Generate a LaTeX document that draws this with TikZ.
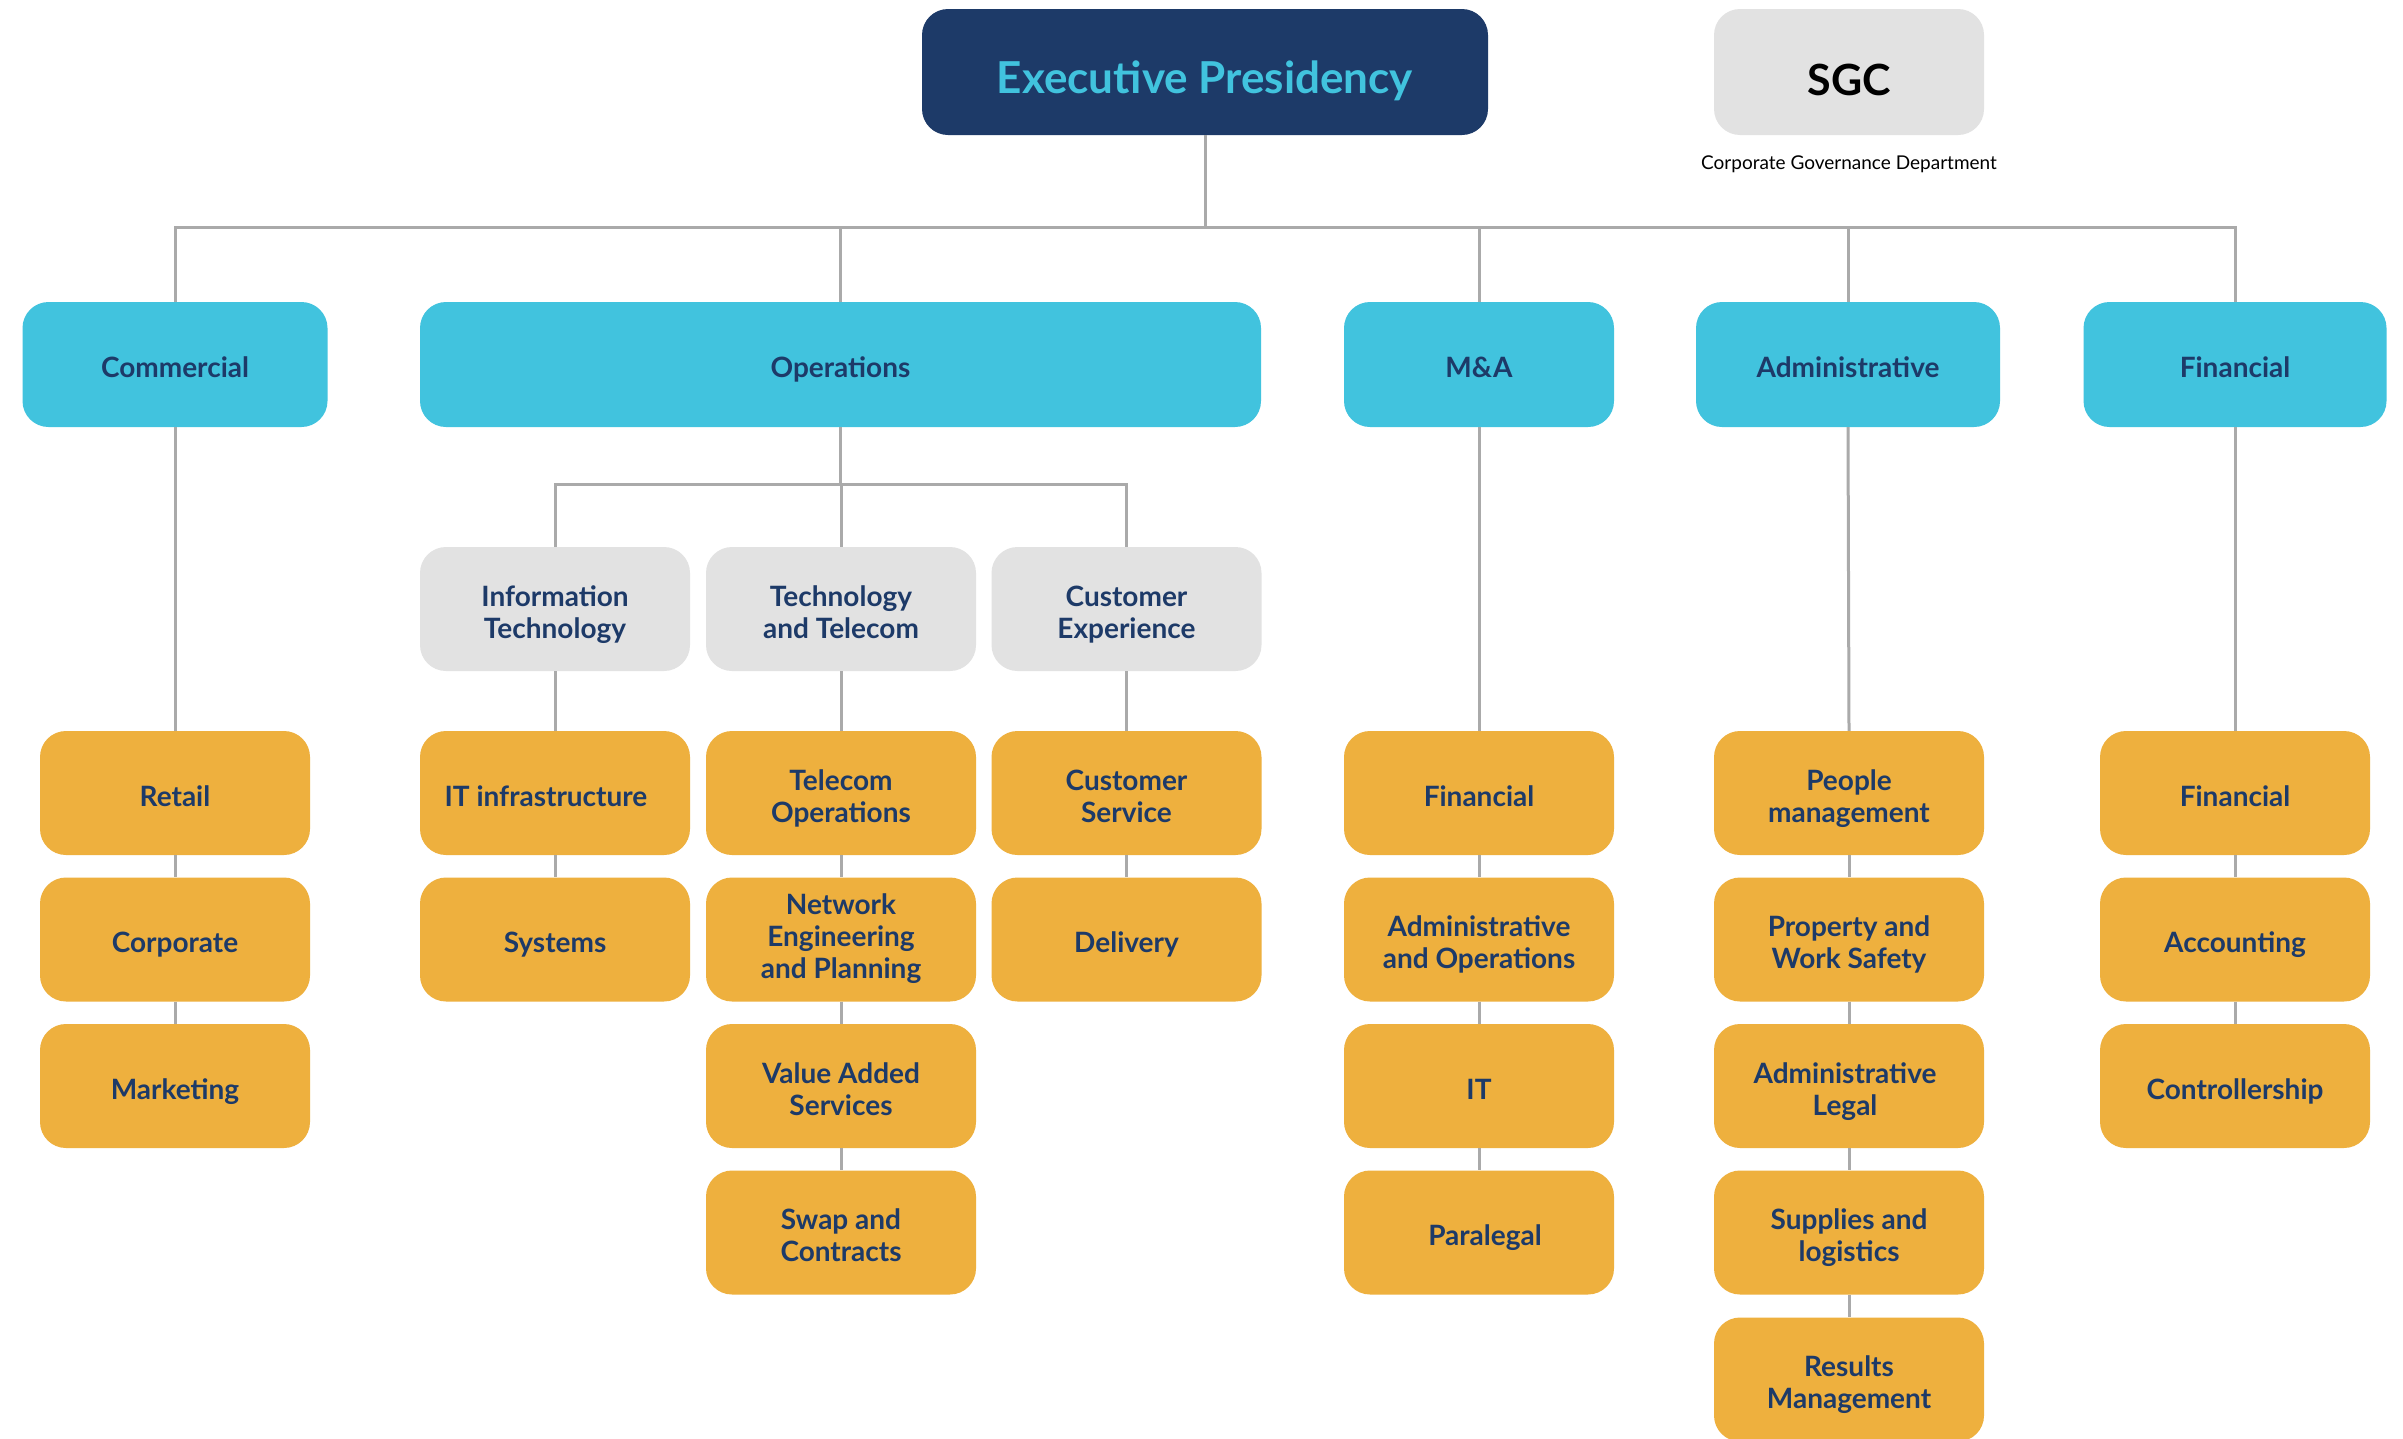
\documentclass[tikz,border=0pt]{standalone}
\usepackage{fontspec}
\setmainfont{Lato}
\definecolor{navy}{HTML}{1D3A68}
\definecolor{cyanc}{HTML}{41C3DE}
\definecolor{orangec}{HTML}{EEB03E}
\definecolor{greyc}{HTML}{E2E2E2}
\definecolor{linec}{HTML}{AAAAAA}
\newcommand{\topln}{\rule{0pt}{33pt}}
\begin{document}
\begin{tikzpicture}[x=1pt,y=-1pt,
  box/.style={rounded corners=26pt, minimum width=270pt, minimum height=124pt, inner sep=0pt,
    align=center, font=\fontsize{28}{32}\selectfont\bfseries, text=navy},
  stdbox/.style={box, execute at begin node={\rule{0pt}{33pt}}, execute at end node={\rule[-7pt]{0pt}{0pt}}},
  orangebox/.style={stdbox, fill=orangec},
  greybox/.style={stdbox, fill=greyc},
  cyanbox/.style={stdbox, fill=cyanc, minimum height=125pt},
  link/.style={draw=linec, line width=3pt}]
\useasboundingbox (0,0) rectangle (2403,1438);
\fill[white] (0,0) rectangle (2403,1438);

% top
\node[box, fill=navy, minimum width=566pt, minimum height=126pt, text=cyanc,
  font=\fontsize{44}{48}\selectfont\bfseries,
  execute at begin node={\rule{0pt}{55pt}}, execute at end node={\rule[-13pt]{0pt}{0pt}}]
  (exec) at (1205,72) {Executive Presidency};
\node[box, fill=greyc, minimum height=126pt, text=black,
  font=\fontsize{43}{46}\selectfont\bfseries,
  execute at begin node={\rule{0pt}{52pt}}, execute at end node={\rule[-6pt]{0pt}{0pt}}]
  (sgc) at (1849,72) {SGC};
\node[font=\fontsize{19}{21}\selectfont, text=black, inner sep=0pt] (sgct) at (1849,164) {Corporate Governance Department};

% level 2
\node[cyanbox, minimum width=305pt] (com) at (175,364.5) {Commercial};
\node[cyanbox, minimum width=841pt] (ops) at (840.5,364.5) {Operations};
\node[cyanbox, minimum width=270pt] (ma) at (1479,364.5) {M\&A};
\node[cyanbox, minimum width=304pt] (adm) at (1848,364.5) {Administrative};
\node[cyanbox, minimum width=303pt] (fin) at (2235,364.5) {Financial};

% operations sub areas
\node[greybox] (it) at (555,609) {\topln Information\\Technology};
\node[greybox] (tt) at (841,609) {\topln Technology\\and Telecom};
\node[greybox] (ce) at (1126.5,609) {\topln Customer\\Experience};

% commercial
\node[orangebox] (c1) at (175,793) {Retail};
\node[orangebox] (c2) at (175,939.5) {Corporate};
\node[orangebox] (c3) at (175,1086) {Marketing};
% IT
\node[orangebox] (i1) at (555,793) {IT infrastructure\hspace*{18pt}};
\node[orangebox] (i2) at (555,939.5) {Systems};
% TT
\node[orangebox] (t1) at (841,793) {\topln Telecom\\Operations};
\node[orangebox] (t2) at (841,939.5) {Network\\Engineering\\and Planning};
\node[orangebox] (t3) at (841,1086) {\topln Value Added\\Services};
\node[orangebox] (t4) at (841,1232.5) {\topln Swap and\\Contracts};
% CE
\node[orangebox] (e1) at (1126.5,793) {\topln Customer\\Service};
\node[orangebox] (e2) at (1126.5,939.5) {Delivery};
% M&A
\node[orangebox] (m1) at (1479,793) {Financial};
\node[orangebox] (m2) at (1479,939.5) {\topln Administrative\\and Operations};
\node[orangebox] (m3) at (1479,1086) {IT};
\node[orangebox] (m4) at (1479,1232.5) {\hspace*{12pt}Paralegal};
% Administrative
\node[orangebox] (a1) at (1849,793) {\topln People\\management};
\node[orangebox] (a2) at (1849,939.5) {\topln Property and\\Work Safety};
\node[orangebox] (a3) at (1849,1086) {\topln Administrative\hspace*{8pt}\\Legal\hspace*{8pt}};
\node[orangebox] (a4) at (1849,1232.5) {\topln Supplies and\\logistics};
\node[orangebox] (a5) at (1849,1379.5) {\topln Results\\Management};
% Financial
\node[orangebox] (f1) at (2235,793) {Financial};
\node[orangebox] (f2) at (2235,939.5) {Accounting};
\node[orangebox] (f3) at (2235,1086) {Controllership};

% connectors
\coordinate (hub) at (1205,227);
\coordinate (sub) at (840.5,484);
\draw[link] (exec.south) -- (hub);
\draw[link] (com.north) -- (com.north |- hub) -- (fin.north |- hub) -- (fin.north);
\draw[link] (ops.north) -- (ops.north |- hub);
\draw[link] (ma.north) -- (ma.north |- hub);
\draw[link] (adm.north) -- (adm.north |- hub);
\draw[link] (ops.south) -- (sub);
\draw[link] (it.north) -- (it.north |- sub) -- (ce.north |- sub) -- (ce.north);
\draw[link] (tt.north) -- (tt.north |- sub);
\draw[link] (it.south) -- (i1.north);
\draw[link] (tt.south) -- (t1.north);
\draw[link] (ce.south) -- (e1.north);
\foreach \a/\b in {com/c1,c1/c2,c2/c3,i1/i2,t1/t2,t2/t3,t3/t4,e1/e2,
  ma/m1,m1/m2,m2/m3,m3/m4,adm/a1,a1/a2,a2/a3,a3/a4,a4/a5,fin/f1,f1/f2,f2/f3}
  \draw[link] (\a.south) -- (\b.north);
\end{tikzpicture}
\end{document}
